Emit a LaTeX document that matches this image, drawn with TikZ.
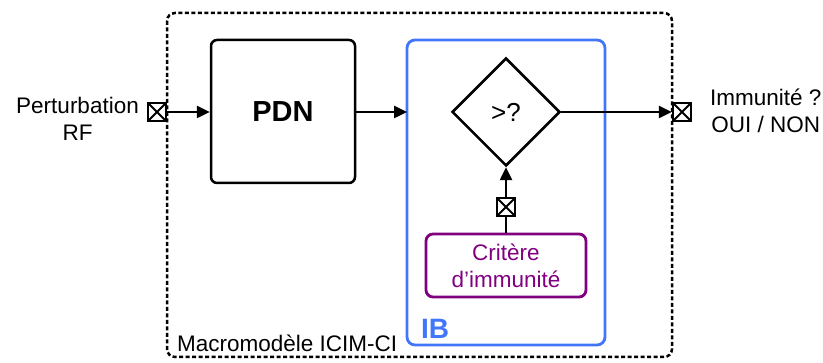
\documentclass[tikz,border=0pt]{standalone}
\usepackage{fontspec}
\setmainfont{Liberation Sans}
\usetikzlibrary{shapes.geometric,arrows.meta}
\definecolor{ibblue}{RGB}{66,118,250}
\definecolor{critpurple}{RGB}{128,0,128}
\tikzset{
  txt/.style={font=\fontsize{22.5}{27}\selectfont, align=center, inner sep=0pt},
  blk/.style={draw, line width=2.5pt, rounded corners=6pt},
  arr/.style={line width=2.5pt, -{Triangle[length=13pt,width=12pt]}},
  ln/.style={line width=2.5pt},
  xbox/.style={draw, line width=2.5pt, fill=white, minimum size=18pt, inner sep=0pt,
    path picture={\draw[line width=1.8pt] (path picture bounding box.south west) -- (path picture bounding box.north east)
      (path picture bounding box.north west) -- (path picture bounding box.south east);}},
}
\begin{document}
\begin{tikzpicture}[x=1pt,y=-1pt]
\useasboundingbox (0,0) rectangle (823,363);
% outer dashed box
\draw[line width=2.5pt, dash pattern=on 4pt off 2.5pt, rounded corners=8pt] (167,13) rectangle (672,357);
\node[txt, anchor=south west] (macro) at (177,352) {Macromodèle ICIM-CI};
% PDN
\node[blk, minimum width=144pt, minimum height=143pt, font=\fontsize{29}{32}\selectfont\bfseries] (pdn) at (283,111.5) {PDN};
% IB
\draw[ibblue, line width=2.8pt, rounded corners=8pt] (407,40) rectangle (605,345);
\coordinate (ibl) at (407,112);
\node[anchor=south west, inner sep=0pt, text=ibblue, font=\fontsize{28}{30}\selectfont\bfseries] (ib) at (421,339) {IB};
% diamond
\node[diamond, draw, line width=2.5pt, minimum width=108pt, minimum height=108pt, inner sep=0pt, aspect=1, font=\fontsize{26}{28}\selectfont] (cmp) at (506,112) {>?};
% critere
\node[draw=critpurple, text=critpurple, line width=2.8pt, rounded corners=7pt, minimum width=160pt, minimum height=63pt, txt] (crit) at (506,265.5) {Critère\\d’immunité};
\node[xbox] (xc) at (506,207) {};
\draw[ln] (crit.north) -- (xc.south);
\draw[arr] (xc.north) -- (cmp.south);
% input
\node[xbox] (xin) at (157,112) {};
\node[txt, anchor=east] (pert) at (139,119) {Perturbation\\RF};
\draw[arr] (xin.east) -- (pdn.west |- xin.east);
\draw[arr] (pdn.east |- ibl) -- (ibl);
% output
\node[xbox] (xout) at (682,112) {};
\draw[arr] (cmp.east) -- (xout.west);
\node[txt, anchor=west] (imm) at (710,111) {Immunité ?\\OUI / NON};
\end{tikzpicture}
\end{document}
